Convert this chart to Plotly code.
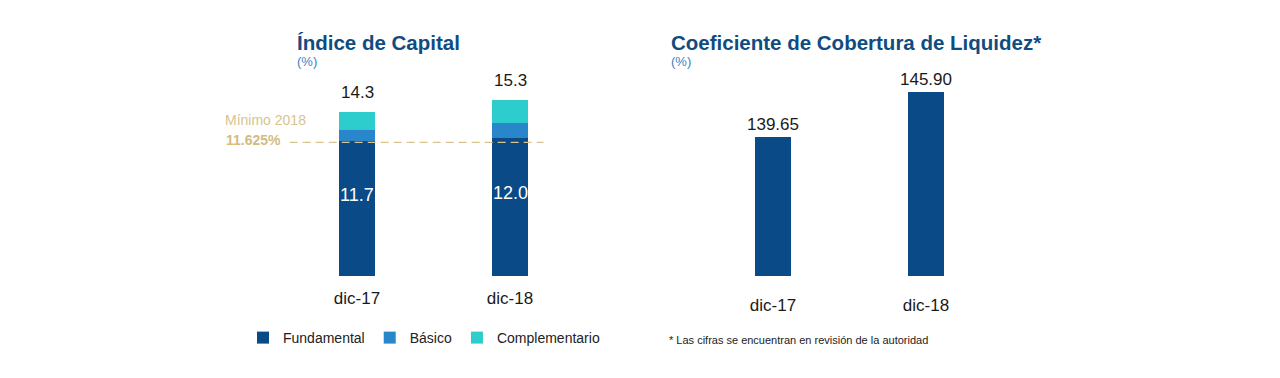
import plotly.graph_objects as go

categories = ["dic-17", "dic-18"]
fundamental = [11.7, 12.0]
basico = [1.0, 1.3]
complementario = [1.6, 2.0]
totals = [14.3, 15.3]
minimo = 11.625
lcr = [139.65, 145.90]

NAVY = "#0A4A86"
MID = "#2A86CA"
AQUA = "#2DCCCD"
TAN = "#D8C48E"
FONT = "Liberation Sans"

W, H = 1280, 378
OFF = 8  # page body margin
def px_x(p):
    return (p - OFF) / W
def px_y(p):
    return 1 - (p - OFF) / H

fig = go.Figure()
bw = 0.235
nol = dict(width=0)
fig.add_trace(go.Bar(x=categories, y=fundamental, name="Fundamental",
                     marker=dict(color=NAVY, line=nol), width=bw, xaxis="x", yaxis="y"))
fig.add_trace(go.Bar(x=categories, y=basico, name="Básico",
                     marker=dict(color=MID, line=nol), width=bw, xaxis="x", yaxis="y"))
fig.add_trace(go.Bar(x=categories, y=complementario, name="Complementario",
                     marker=dict(color=AQUA, line=nol), width=bw, xaxis="x", yaxis="y"))
fig.add_trace(go.Bar(x=categories, y=lcr, name="LCR", marker=dict(color=NAVY, line=nol),
                     width=bw, xaxis="x2", yaxis="y2", showlegend=False,
                     text=[f"{v:.2f}" for v in lcr], textposition="outside",
                     constraintext="none",
                     textfont=dict(size=17, color="#1a1a1a", family=FONT), cliponaxis=False))

ydom = [px_y(276), px_y(60)]
fig.update_layout(
    width=W, height=H, margin=dict(l=0, r=0, t=0, b=0),
    paper_bgcolor="white", plot_bgcolor="white",
    barmode="stack", font=dict(family=FONT),
    xaxis=dict(domain=[px_x(280.5), px_x(586.5)], range=[-0.5, 1.5], showgrid=False,
               zeroline=False, showline=False, ticks="", ticklabelstandoff=10,
               tickfont=dict(size=17, color="#1a1a1a", family=FONT)),
    yaxis=dict(domain=ydom, range=[0, 216 / 11.5], visible=False),
    xaxis2=dict(domain=[px_x(696.5), px_x(1002.5)], range=[-0.5, 1.5], showgrid=False,
                zeroline=False, showline=False, ticks="", ticklabelstandoff=17,
                tickfont=dict(size=17, color="#1a1a1a", family=FONT), anchor="y2"),
    yaxis2=dict(domain=ydom, range=[120.35, 120.35 + 216 / 7.2], visible=False, anchor="x2"),
    legend=dict(orientation="h", x=px_x(243), y=px_y(322), xanchor="left", yanchor="top",
                font=dict(size=14, color="#222222", family=FONT), traceorder="normal",
                itemwidth=30),
    showlegend=True,
)

# minimum line
fig.add_shape(type="line", xref="x", yref="y", x0=-0.44, x1=1.22, y0=minimo, y1=minimo,
              line=dict(color=TAN, width=1.3, dash="8px,5px"))
fig.add_annotation(x=px_x(308), xref="paper", xanchor="right", y=minimo, yref="y",
                   yanchor="bottom", yshift=12, text="Mínimo 2018", showarrow=False,
                   font=dict(size=14, color=TAN, family=FONT))
fig.add_annotation(x=px_x(283), xref="paper", xanchor="right", y=minimo, yref="y",
                   yanchor="middle", yshift=2, text=f"<b>{minimo:.3f}%</b>", showarrow=False,
                   font=dict(size=14, color="#D4BC7E", family=FONT))

# labels
for c, t, f in zip(categories, totals, fundamental):
    fig.add_annotation(x=c, xref="x", y=t, yref="y", yanchor="bottom", yshift=8,
                       text=f"{t:.1f}", showarrow=False,
                       font=dict(size=17, color="#1a1a1a", family=FONT))
    fig.add_annotation(x=c, xref="x", y=f / 2, yref="y", yanchor="middle", yshift=14,
                       text=f"{f:.1f}", showarrow=False,
                       font=dict(size=18, color="white", family=FONT))

# titles
fig.add_annotation(x=px_x(295), y=px_y(42), xref="paper", yref="paper", xanchor="left",
                   yanchor="middle", text="<b>Índice de Capital</b>", showarrow=False,
                   font=dict(size=20.5, color="#0F4C81", family=FONT))
fig.add_annotation(x=px_x(295), y=px_y(61), xref="paper", yref="paper", xanchor="left",
                   yanchor="middle", text="(%)", showarrow=False,
                   font=dict(size=13, color="#3B82C4", family=FONT))
fig.add_annotation(x=px_x(669), y=px_y(42), xref="paper", yref="paper", xanchor="left",
                   yanchor="middle", text="<b>Coeficiente de Cobertura de Liquidez*</b>",
                   showarrow=False, font=dict(size=20.5, color="#0F4C81", family=FONT))
fig.add_annotation(x=px_x(669), y=px_y(61), xref="paper", yref="paper", xanchor="left",
                   yanchor="middle", text="(%)", showarrow=False,
                   font=dict(size=13, color="#3B82C4", family=FONT))
fig.add_annotation(x=px_x(667), y=px_y(340), xref="paper", yref="paper", xanchor="left",
                   yanchor="middle", text="* Las cifras se encuentran en revisión de la autoridad",
                   showarrow=False, font=dict(size=11, color="#222222", family=FONT))

fig.write_html("out.html")
